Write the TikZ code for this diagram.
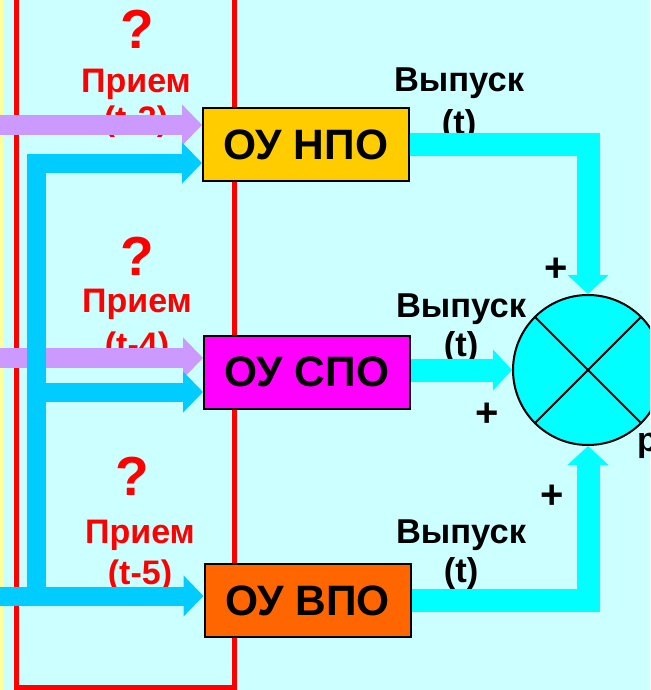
\documentclass[tikz,border=0pt]{standalone}
\usepackage{fontspec}
\setmainfont{Liberation Sans}
\usetikzlibrary{arrows.meta}
\definecolor{bgc}{HTML}{CCFFFF}
\definecolor{stripc}{HTML}{FFFF99}
\definecolor{redc}{HTML}{FF0000}
\definecolor{purplec}{HTML}{CC99FF}
\definecolor{bluec}{HTML}{00CCFF}
\definecolor{cyanc}{HTML}{00FFFF}
\definecolor{yellowc}{HTML}{FFCC00}
\definecolor{magentac}{HTML}{FF00FF}
\definecolor{orangec}{HTML}{FF6600}
\tikzset{
  oubox/.style={draw=black, line width=2pt, minimum width=206pt, minimum height=73pt,
    inner sep=0pt, font=\fontsize{42.5}{42.5}\selectfont\bfseries},
  qmark/.style={anchor=base, inner sep=0pt, text=redc, font=\fontsize{55}{55}\selectfont\bfseries},
  inlabel/.style={anchor=base, inner sep=0pt, text=redc, font=\fontsize{34}{34}\selectfont\bfseries},
  outlabel/.style={anchor=base, inner sep=0pt, text=black, font=\fontsize{34.5}{34.5}\selectfont\bfseries},
  plus/.style={inner sep=0pt, text=black, font=\fontsize{40}{40}\selectfont\bfseries},
  purplearr/.style={draw=purplec, line width=20pt, -{Triangle[length=20pt,width=40pt]}},
  bluearr/.style={draw=bluec, line width=19pt, miter limit=10, line join=miter, -{Triangle[length=20pt,width=40pt]}},
  cyanarr/.style={draw=cyanc, line width=23pt, line join=miter, -{Triangle[length=19pt,width=40pt]}},
}
\begin{document}
\begin{tikzpicture}[x=1pt,y=-1pt]
\useasboundingbox (0,0) rectangle (650,690);
\clip (0,0) rectangle (650,690);
\fill[bgc] (0,0) rectangle (650,690);
\fill[stripc] (0,0) rectangle (3,690);
\draw[redc, line width=5pt] (16,-10) -- (16,687.5) -- (234.5,687.5) -- (234.5,-10);

% input labels
\node[qmark] (q1) at (137,49) {?};
\node[inlabel] (p1) at (136,93) {Прием};
\node[inlabel] (t1) at (136,131) {(t-3)};
\node[qmark] (q2) at (137,275) {?};
\node[inlabel] (p2) at (137,312) {Прием};
\node[inlabel] (t2) at (137,356) {(t-4)};
\node[qmark] (q3) at (132,495) {?};
\node[inlabel] (p3) at (140,543) {Прием};
\node[inlabel] (t3) at (140,584) {(t-5)};

% output labels
\node[outlabel] (o1) at (459,92) {Выпуск};
\node[outlabel] (o1t) at (459,134) {(t)};
\node[outlabel] (o2) at (461,317) {Выпуск};
\node[outlabel] (o2t) at (461,356) {(t)};
\node[outlabel] (o3) at (461,543) {Выпуск};
\node[outlabel] (o3t) at (461,582) {(t)};

\node[plus] (pl1) at (556,270) {+};
\node[plus] (pl2) at (487,415) {+};
\node[plus] (pl3) at (552,497) {+};
\node[anchor=base west, inner sep=0pt, font=\fontsize{34}{34}\selectfont\bfseries] (rr) at (637,451) {р};

% boxes
\node[oubox, fill=yellowc] (n) at (306,144.5) {ОУ НПО};
\node[oubox, fill=magentac] (s) at (307,372) {ОУ СПО};
\node[oubox, fill=orangec] (v) at (307.5,600.5) {ОУ ВПО};

% summator
\node[circle, draw=black, line width=2pt, fill=cyanc, minimum size=150pt, inner sep=0pt] (sum) at (588,370) {};
\draw[line width=2pt] (sum.45) -- (sum.225);
\draw[line width=2pt] (sum.135) -- (sum.315);

% coordinates
\coordinate (pa) at (0,125);
\coordinate (pb) at (0,358);
\coordinate (ba) at (0,596);
\coordinate (bb) at (36,596);
\coordinate (bc) at (36,163);
\coordinate (bm) at (36,392);

% purple inputs
\draw[purplearr] (pa) -- (pa -| n.west);
\draw[purplearr] (pb) -- (pb -| s.west);

% blue inputs
\draw[bluearr] (ba) -- (ba -| v.west);
\draw[bluearr] (bb) -- (bc) -- (bc -| n.west);
\draw[bluearr] (bm) -- (bm -| s.west);

% cyan outputs
\draw[cyanarr] (n.east) -- (n.east -| sum.north) -- (sum.north);
\draw[cyanarr] (sum.west -| s.east) -- (sum.west);
\draw[cyanarr] (v.east) -- (v.east -| sum.south) -- (sum.south);
\end{tikzpicture}
\end{document}
